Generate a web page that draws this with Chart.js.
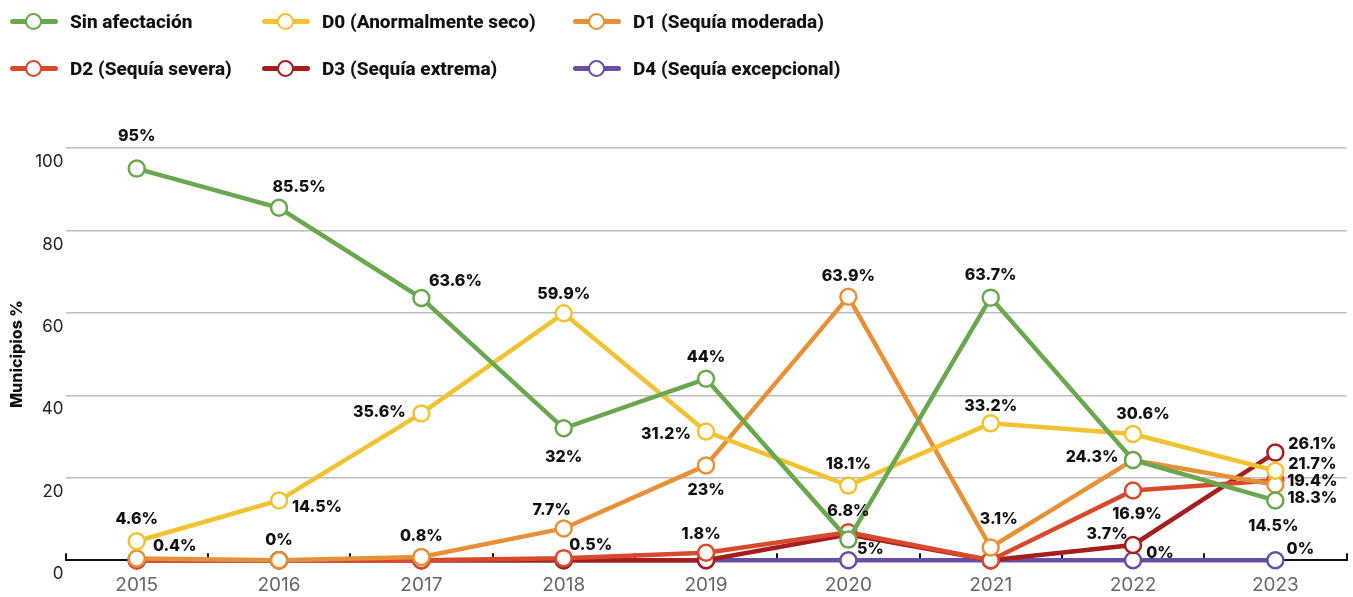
<!DOCTYPE html>
<html>
<head>
<meta charset="utf-8">
<script src="https://cdn.jsdelivr.net/npm/chart.js@4.4.1/dist/chart.umd.min.js"></script>
<style>
  html, body { margin: 0; padding: 0; background: #fff; }
  #wrap { position: relative; width: 1353px; height: 597px; overflow: hidden; }
  #chart { position: absolute; left: 0; top: 0; }
  #legend { position: absolute; left: 0; top: 0; width: 1353px; height: 100px; font-family: Roboto, "Noto Sans", sans-serif; }
  .item { position: absolute; height: 24px; display: flex; align-items: center; font-weight: 800; font-size: 19px; color: #111; white-space: nowrap; }
  .sym { position: relative; width: 48px; height: 20px; margin-right: 12px; }
  .sym .ln { position: absolute; left: 0; right: 0; top: 8px; height: 5px; border-radius: 3px; }
  .sym .dot { position: absolute; left: 15px; top: 1.5px; width: 13px; height: 13px; border-radius: 50%; background: #fff; border: 2.5px solid; }
</style>
</head>
<body>
<div id="wrap">
  <canvas id="chart" width="1357" height="597"></canvas>
  <div id="legend"></div>
</div>
<script>
// ---- data ----
const years = ['2015', '2016', '2017', '2018', '2019', '2020', '2021', '2022', '2023'];
const seriesNames = ['Sin afectación', 'D0 (Anormalmente seco)', 'D1 (Sequía moderada)', 'D2 (Sequía severa)', 'D3 (Sequía extrema)', 'D4 (Sequía excepcional)'];
const sinAfectacion = [95, 85.5, 63.6, 32, 44, 5, 63.7, 24.3, 14.5];
const d0 = [4.6, 14.5, 35.6, 59.9, 31.2, 18.1, 33.2, 30.6, 21.7];
const d1 = [0.4, 0, 0.8, 7.7, 23, 63.9, 3.1, 24.3, 18.3];
const d2 = [0, 0, 0, 0.5, 1.8, 6.8, 0, 16.9, 19.4];
const d3 = [0, 0, 0, 0, 0, 6.2, 0, 3.7, 26.1];
const d4 = [0, 0, 0, 0, 0, 0, 0, 0, 0];
const yTicks = [0, 20, 40, 60, 80, 100];
const yTitle = 'Municipios %';

// ---- styles ----
const colors = ['#6aa84f', '#f1c232', '#e69138', '#d84a2b', '#a51d1d', '#674ea7'];
// label placement (pixel offsets from point) per series, null = no label
const labelOffsets = [
  [[0,-32],[20,-21],[34,-17],[0,29],[0,-22],[22,10],[0,-22],[-41,-3],[-2,26]],
  [[0,-22],[38,7],[-42,-1],[0,-19],[-40,3],[0,-21],[0,-17],[10,-20],[37,-7]],
  [[38,-12],[0,-20],[0,-21],[-12,-18],[0,25],[0,-21],[8,-28],null,[37,13]],
  [null,null,null,[27,-13],[-5,-19],[0,-21],null,[4,24],[37,1]],
  [null,null,null,null,null,null,null,[-26,-11],[37,-8]],
  [null,null,null,null,null,null,null,[27,-7],[25,-11]]
];
const legendPos = [[10,9],[262,9],[573,9],[10,56],[262,56],[573,56]];

const seriesData = [sinAfectacion, d0, d1, d2, d3, d4];

const datasets = seriesData.map((arr, i) => ({
  label: seriesNames[i],
  data: arr,
  borderColor: colors[i],
  backgroundColor: '#ffffff',
  pointBackgroundColor: '#ffffff',
  pointBorderColor: colors[i],
  pointRadius: 8,
  pointHoverRadius: 8,
  pointBorderWidth: 2.5,
  borderWidth: 4.5,
  tension: 0,
  clip: false
}));

// legend (HTML)
const leg = document.getElementById('legend');
seriesNames.forEach((n, i) => {
  const d = document.createElement('div');
  d.className = 'item';
  d.style.left = legendPos[i][0] + 'px';
  d.style.top = legendPos[i][1] + 'px';
  d.innerHTML = '<div class="sym"><div class="ln" style="background:' + colors[i] + '"></div><div class="dot" style="border-color:' + colors[i] + '"></div></div><span></span>';
  d.querySelector('span').textContent = n;
  leg.appendChild(d);
});

const labelPlugin = {
  id: 'valueLabels',
  afterDatasetsDraw(chart) {
    const ctx = chart.ctx;
    ctx.save();
    ctx.font = '800 16px Inter, "Noto Sans", sans-serif';
    ctx.fillStyle = '#111';
    ctx.textAlign = 'center';
    ctx.textBaseline = 'middle';
    chart.data.datasets.forEach((ds, di) => {
      const meta = chart.getDatasetMeta(di);
      meta.data.forEach((pt, pi) => {
        const off = labelOffsets[di][pi];
        if (!off) return;
        const v = ds.data[pi];
        ctx.fillText(v + '%', pt.x + off[0], pt.y + off[1]);
      });
    });
    ctx.restore();
  }
};

new Chart(document.getElementById('chart'), {
  type: 'line',
  data: { labels: years, datasets },
  options: {
    responsive: false,
    animation: false,
    events: [],
    layout: { padding: { top: 148, left: 8, right: 0, bottom: -21 } },
    plugins: { legend: { display: false }, tooltip: { enabled: false } },
    scales: {
      x: {
        offset: true,
        grid: { display: true, drawOnChartArea: false, drawTicks: true, tickLength: -7, color: '#111', lineWidth: 2, offset: true },
        border: { display: true, color: '#111', width: 2 },
        ticks: { color: '#666', font: { family: 'Inter, "Noto Sans", sans-serif', size: 19 }, padding: 21 }
      },
      y: {
        min: yTicks[0],
        max: yTicks[yTicks.length - 1],
        afterBuildTicks(scale) { scale.ticks = yTicks.map(v => ({ value: v })); },
        grid: { drawTicks: false, color: ctx => ctx.tick && ctx.tick.value === 0 ? 'rgba(0,0,0,0)' : '#bdbdbd', lineWidth: 1.5 },
        border: { display: false },
        ticks: { color: '#222', font: { family: 'Inter, "Noto Sans", sans-serif', size: 17 }, padding: 2, labelOffset: 14 },
        title: { display: true, text: yTitle, color: '#111', font: { family: 'Inter, "Noto Sans", sans-serif', size: 16, weight: '800' }, padding: { top: 0, bottom: 6 } }
      }
    }
  },
  plugins: [labelPlugin]
});
</script>
</body>
</html>
